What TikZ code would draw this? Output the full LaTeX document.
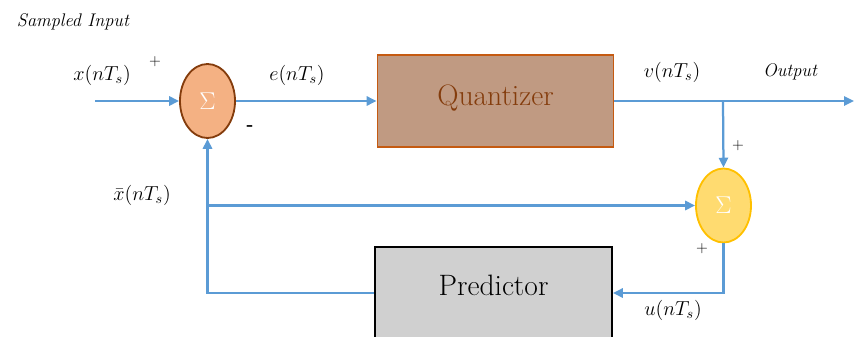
\documentclass[tikz,border=0pt]{standalone}
\usepackage{amsmath,amssymb}
\usepackage{xcolor}
\usetikzlibrary{positioning, shapes.geometric, arrows.meta, calc}

\definecolor{sigblue}{HTML}{5B9BD5}
\definecolor{sumonefill}{HTML}{F4B183}
\definecolor{sumoneline}{HTML}{843C0C}
\definecolor{quantfill}{HTML}{C09A82}
\definecolor{quantline}{HTML}{C55A11}
\definecolor{sumtwofill}{HTML}{FFDB70}
\definecolor{sumtwoline}{HTML}{FFC000}
\definecolor{predfill}{HTML}{D0D0D0}

\begin{document}
\begin{tikzpicture}[
    x=0.025cm, y=-0.025cm,
    adder/.style={ellipse, draw, line width=1.3pt, minimum width=1.375cm, minimum height=1.85cm,
        text=white, font=\fontsize{18}{20}\selectfont, inner sep=0pt},
    block/.style={rectangle, draw, line width=1.3pt, font=\fontsize{21}{24}\selectfont},
    signal/.style={draw=sigblue, line width=1.6pt},
    sig/.style={font=\fontsize{14}{16}\selectfont},
    sign/.style={font=\fontsize{11}{12}\selectfont},
    tag/.style={font=\fontsize{13}{15}\selectfont\itshape},
    >={Triangle[length=7pt, width=6.5pt]}
]
\useasboundingbox (0,0) rectangle (855,336);

% summing points
\node[adder, fill=sumonefill, draw=sumoneline] (sum1) at (207.5,101) {$\Sigma$};
\node[adder, fill=sumtwofill, draw=sumtwoline] (sum2) at (723.5,205.5) {$\Sigma$};

% blocks
\node[block, fill=quantfill, draw=quantline, text=sumoneline, minimum width=5.9cm, minimum height=2.3cm] (quant) at (495.5,101) {\raisebox{0.3cm}{Quantizer}};
\node[block, fill=predfill, draw=black, minimum width=5.925cm, minimum height=2.3cm] (pred) at (493.5,293) {\raisebox{0.4cm}{Predictor}};

% end points
\coordinate (in) at (95,101);
\coordinate (out) at (854,101);
\coordinate (split) at (723,101);
\coordinate (fb) at (sum1.south |- sum2.west);

% connectors
\draw[signal, ->] (in) -- (sum1.west);
\draw[signal, ->] (sum1.east) -- (quant.west);
\draw[signal, ->] (quant.east) -- (out);
\draw[signal, ->] (split) -- (sum2.north);
\draw[signal, ->] (fb) -- (sum2.west);
\draw[signal, ->] (sum2.south) |- (pred.east);
\draw[signal, ->] (pred.west) -| (sum1.south);

% labels
\node[tag] (title) at (73,22) {Sampled Input};
\node[tag] (outlbl) at (790,72) {Output};
\node[sig] (xlbl) at (102,75) {$x(nT_s)$};
\node[sig] (elbl) at (297,75) {$e(nT_s)$};
\node[sig] (vlbl) at (672,72) {$v(nT_s)$};
\node[sig] (xbarlbl) at (142,195) {$\bar{x}(nT_s)$};
\node[sig] (ulbl) at (673,310) {$u(nT_s)$};
\node[sign] (plus1) at (155,62) {+};
\node[sign, font=\fontsize{13}{14}\selectfont\bfseries] (minus1) at (250,128) {-};
\node[sign] (plus2) at (738,146) {+};
\node[sign] (plus3) at (702,249) {+};

\end{tikzpicture}
\end{document}
